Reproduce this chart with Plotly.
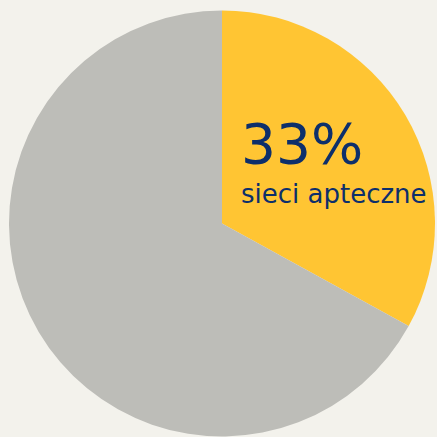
import plotly.graph_objects as go

labels = ["sieci apteczne", "pozostałe"]
values = [33, 67]
colors = ["#FFC533", "#BDBDB8"]
big_label = "33%"
small_label = "sieci apteczne"

W = 437
fig = go.Figure(go.Pie(
    labels=labels, values=values, sort=False, direction="clockwise", rotation=0,
    marker=dict(colors=colors, line=dict(width=0)),
    textinfo="none", hoverinfo="label+percent",
    domain=dict(x=[9 / W, 435 / W], y=[0.5 / W, 426.5 / W]),
))

fig.add_annotation(text=big_label, x=239 / W, y=1 - 144 / W, xref="paper", yref="paper",
                   xanchor="left", yanchor="middle", showarrow=False,
                   font=dict(family="DejaVu Sans", size=55, color="#0D2F6B"))
fig.add_annotation(text=small_label, x=239 / W, y=1 - 194 / W, xref="paper", yref="paper",
                   xanchor="left", yanchor="middle", showarrow=False,
                   font=dict(family="DejaVu Sans", size=26, color="#0D2F6B"))

fig.update_layout(width=437, height=437, margin=dict(l=0, r=0, t=0, b=0),
                  paper_bgcolor="#F3F2EC", plot_bgcolor="#F3F2EC", showlegend=False)
fig.write_html("out.html", config={"displayModeBar": False},
               post_script="document.body.style.margin='0';document.body.style.background='#F3F2EC';")
